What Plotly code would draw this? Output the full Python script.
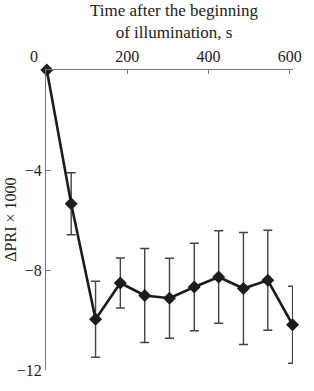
import plotly.graph_objects as go

times = [2, 62, 122, 183, 243, 304, 365, 425, 486, 546, 607]
delta_pri = [0.0, -5.35, -9.97, -8.52, -9.02, -9.13, -8.68, -8.28, -8.74, -8.41, -10.19]
pri_err = [None, 1.24, 1.52, 1.0, 1.88, 1.6, 1.75, 1.85, 2.24, 2.0, 1.54]

x_ticks = [0, 200, 400, 600]
x_ticklabels = ["0\u2003\u2002", "200", "400", "600"]
y_ticks = [-4, -8, -12]
y_ticklabels = ["\u22124", "\u22128", "\u221212"]

FONT = "Liberation Serif"
AXIS_COLOR = "#777777"

fig = go.Figure()
fig.add_trace(go.Scatter(
    x=times, y=delta_pri,
    mode="lines+markers",
    line=dict(color="#1c1c1c", width=2.6),
    marker=dict(symbol="diamond", size=10, color="#1c1c1c"),
    error_y=dict(type="data", array=pri_err, visible=True,
                 color="#444444", thickness=1.4, width=4.5),
    cliponaxis=False,
    showlegend=False,
))

fig.update_layout(
    width=314, height=391,
    margin=dict(l=46, r=16, t=70, b=19),
    paper_bgcolor="white", plot_bgcolor="white",
    font=dict(family=FONT, size=15, color="#222222"),
    xaxis=dict(
        side="top", range=[0, 608],
        tickvals=x_ticks, ticktext=x_ticklabels,
        ticks="inside", ticklen=4, tickcolor=AXIS_COLOR, tickwidth=1,
        ticklabelstandoff=1,
        showline=True, linecolor=AXIS_COLOR, linewidth=1.2,
        showgrid=False, zeroline=False,
        tickfont=dict(family=FONT, size=16, color="#222222"),
    ),
    yaxis=dict(
        range=[-12, 0],
        tickvals=y_ticks, ticktext=y_ticklabels,
        ticks="inside", ticklen=5, tickcolor=AXIS_COLOR, tickwidth=1,
        showline=True, linecolor=AXIS_COLOR, linewidth=1.2,
        showgrid=False, zeroline=False,
        tickfont=dict(family=FONT, size=16, color="#222222"),
    ),
    annotations=[
        dict(text="Time after the beginning<br>of illumination, s",
             xref="paper", yref="paper", x=0.52, y=1.163,
             xanchor="center", yanchor="middle", showarrow=False,
             font=dict(family=FONT, size=17, color="#222222")),
        dict(text="\u0394PRI \u00d7 1000",
             xref="paper", yref="paper", x=-0.147, y=0.5,
             xanchor="center", yanchor="middle", textangle=-90, showarrow=False,
             font=dict(family=FONT, size=16, color="#222222")),
    ],
)

fig.write_html("out.html")
